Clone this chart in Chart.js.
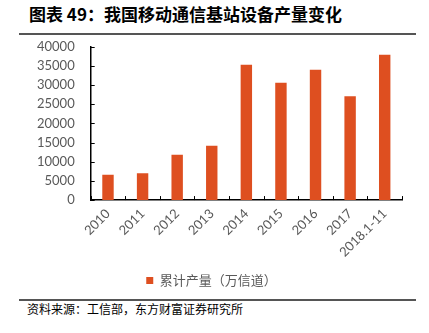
<!DOCTYPE html>
<html><head><meta charset="utf-8">
<script src="https://cdn.jsdelivr.net/npm/chart.js@4/dist/chart.umd.min.js"></script>
<style>
html,body{margin:0;padding:0;background:#fff;width:429px;height:333px;overflow:hidden;position:relative;}
#title{position:absolute;left:29px;top:3px;font:bold 17px "Noto Sans CJK SC";color:#000;white-space:nowrap;line-height:22px;}
.rule{position:absolute;left:19px;width:397px;height:2px;background:#555;}
#src{position:absolute;left:27px;top:300px;font:12px "Noto Sans CJK SC";color:#000;white-space:nowrap;line-height:17px;}
#wrap{position:absolute;left:0;top:23px;width:429px;height:274px;}
</style></head><body>
<div id="title">图表 49：我国移动通信基站设备产量变化</div>
<div class="rule" style="top:33px"></div>
<div class="rule" style="top:299px"></div>
<div id="src">资料来源：工信部，东方财富证券研究所</div>
<div id="wrap"><canvas id="c"></canvas></div>
<script>
const categories = ["2010","2011","2012","2013","2014","2015","2016","2017","2018.1-11"];
const seriesName = "累计产量（万信道）";
const values = [6600, 7000, 11800, 14200, 35300, 30600, 34000, 27100, 37900];
const yTicks = [0,5000,10000,15000,20000,25000,30000,35000,40000];
const barColor = "#DE4F20";

const innerTicks = {
  id:'innerTicks',
  afterDatasetsDraw(chart){
    const {ctx, scales:{x,y}} = chart;
    ctx.save();
    ctx.strokeStyle = '#000'; ctx.lineWidth = 1;
    ctx.beginPath();
    yTicks.forEach(v=>{const py=Math.round(y.getPixelForValue(v))+0.5; ctx.moveTo(x.left,py); ctx.lineTo(x.left+4,py);});
    for(let i=0;i<=categories.length;i++){
      const px=Math.round(x.getPixelForValue(i-0.5))+0.5;
      ctx.moveTo(px,y.bottom); ctx.lineTo(px,y.bottom-4);
    }
    ctx.stroke();
    ctx.restore();
  }
};

const chart = new Chart(document.getElementById('c'),{
  type:'bar',
  data:{labels:categories,datasets:[{label:seriesName,data:values,backgroundColor:barColor,barPercentage:0.33,categoryPercentage:1}]},
  options:{
    responsive:true,maintainAspectRatio:false,animation:false,
    layout:{padding:{top:0,right:27,left:21,bottom:0}},
    plugins:{
      legend:{position:'bottom',labels:{boxWidth:7,boxHeight:7,color:'#595959',font:{family:'"Noto Sans CJK SC"',size:13},padding:8}},
      tooltip:{enabled:false}
    },
    scales:{
      x:{grid:{display:false,drawTicks:false},border:{display:true,color:'#000',width:1.5},
         ticks:{color:'#595959',font:{family:'Lato',size:13},maxRotation:45,minRotation:45,padding:6}},
      y:{min:0,max:40000,
         grid:{display:false,drawTicks:false},border:{display:true,color:'#000',width:1.5},
         ticks:{stepSize:5000,autoSkip:false,callback:v=>String(v),color:'#595959',font:{family:'Lato',size:13},padding:16}}
    }
  },
  plugins:[innerTicks]
});
</script>
</body></html>
